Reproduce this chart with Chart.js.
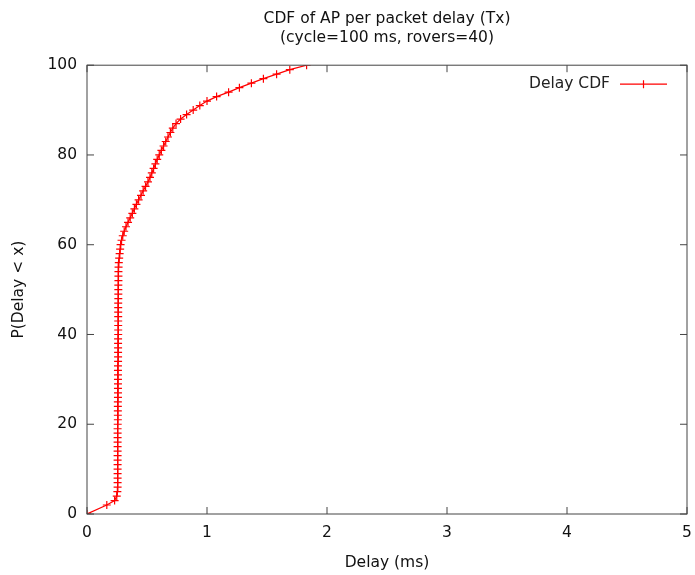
<!DOCTYPE html>
<html>
<head>
<meta charset="utf-8">
<title>CDF of AP per packet delay</title>
<script src="https://cdn.jsdelivr.net/npm/chart.js@4.4.1/dist/chart.umd.min.js"></script>
<style>
  html, body { margin: 0; padding: 0; background: #fff; }
  #wrap { width: 695px; height: 575px; }
</style>
</head>
<body>
<div id="wrap"><canvas id="cdfChart" width="695" height="575"></canvas></div>
<script>
// Cumulative probability (%) and the delay (ms) reached at that level
const cdfPercent = [
    0, 2, 3, 4, 5, 6, 7, 8, 9, 10,
    11, 12, 13, 14, 15, 16, 17, 18, 19, 20,
    21, 22, 23, 24, 25, 26, 27, 28, 29, 30,
    31, 32, 33, 34, 35, 36, 37, 38, 39, 40,
    41, 42, 43, 44, 45, 46, 47, 48, 49, 50,
    51, 52, 53, 54, 55, 56, 57, 58, 59, 60,
    61, 62, 63, 64, 65, 66, 67, 68, 69, 70,
    71, 72, 73, 74, 75, 76, 77, 78, 79, 80,
    81, 82, 83, 84, 85, 86, 87, 88, 89, 90,
    91, 92, 93, 94, 95, 96, 97, 98, 99, 100
];
const delayMs = [
    0, 0.165, 0.23, 0.248, 0.253, 0.255, 0.255, 0.255, 0.255, 0.255,
    0.255, 0.255, 0.255, 0.255, 0.255, 0.255, 0.255, 0.255, 0.255, 0.256,
    0.257, 0.257, 0.257, 0.257, 0.257, 0.258, 0.258, 0.258, 0.258, 0.258,
    0.258, 0.258, 0.258, 0.259, 0.259, 0.259, 0.259, 0.259, 0.259, 0.26,
    0.26, 0.26, 0.26, 0.26, 0.26, 0.26, 0.26, 0.261, 0.261, 0.261,
    0.261, 0.262, 0.262, 0.262, 0.263, 0.265, 0.268, 0.272, 0.276, 0.28,
    0.288, 0.298, 0.31, 0.325, 0.342, 0.36, 0.378, 0.395, 0.412, 0.43,
    0.45, 0.468, 0.488, 0.508, 0.525, 0.54, 0.555, 0.57, 0.585, 0.602,
    0.62, 0.638, 0.656, 0.675, 0.695, 0.715, 0.742, 0.78, 0.83, 0.885,
    0.94, 1.0, 1.08, 1.18, 1.27, 1.37, 1.47, 1.58, 1.69, 1.83
];

const xTicks = [0, 1, 2, 3, 4, 5];
const yTicks = [0, 20, 40, 60, 80, 100];
const seriesLabel = 'Delay CDF';
const titleLines = ['CDF of AP per packet delay (Tx)', '(cycle=100 ms, rovers=40)'];

const FONT = 'DejaVu Sans';
const FONT_SIZE = 15.5;

// gnuplot-like frame: border box with inward ticks on all four sides
const framePlugin = {
    id: 'frame',
    afterDatasetsDraw(chart) {
        const { ctx, chartArea: a, scales } = chart;
        const tickLen = 7;
        ctx.save();
        ctx.strokeStyle = '#444';
        ctx.lineWidth = 1;
        ctx.beginPath();
        xTicks.forEach(v => {
            const px = scales.x.getPixelForValue(v);
            ctx.moveTo(px, a.bottom); ctx.lineTo(px, a.bottom - tickLen);
            ctx.moveTo(px, a.top); ctx.lineTo(px, a.top + tickLen);
        });
        yTicks.forEach(v => {
            const py = scales.y.getPixelForValue(v);
            ctx.moveTo(a.left, py); ctx.lineTo(a.left + tickLen, py);
            ctx.moveTo(a.right, py); ctx.lineTo(a.right - tickLen, py);
        });
        ctx.stroke();
        ctx.strokeRect(a.left, a.top, a.right - a.left, a.bottom - a.top);
        ctx.restore();
    }
};

// key in the top right corner: label, then line sample with a marker
const keyPlugin = {
    id: 'key',
    afterDraw(chart) {
        const { ctx, chartArea: a } = chart;
        const ds = chart.data.datasets[0];
        const y = a.top + 19;
        const x1 = a.right - 67, x2 = a.right - 20;
        ctx.save();
        ctx.font = FONT_SIZE + 'px "' + FONT + '"';
        ctx.fillStyle = '#222';
        ctx.textAlign = 'right';
        ctx.textBaseline = 'middle';
        ctx.fillText(ds.label, x1 - 10, y);
        ctx.strokeStyle = ds.borderColor;
        ctx.lineWidth = ds.borderWidth;
        ctx.beginPath();
        ctx.moveTo(x1, y); ctx.lineTo(x2, y);
        const mx = (x1 + x2) / 2;
        ctx.moveTo(mx, y - ds.pointRadius); ctx.lineTo(mx, y + ds.pointRadius);
        ctx.stroke();
        ctx.restore();
    }
};

const points = cdfPercent.map((p, i) => ({ x: delayMs[i], y: p }));

new Chart(document.getElementById('cdfChart'), {
    type: 'scatter',
    data: {
        datasets: [{
            label: seriesLabel,
            data: points,
            showLine: true,
            borderColor: '#ff0000',
            backgroundColor: '#ff0000',
            borderWidth: 1.2,
            pointStyle: 'cross',
            pointRadius: 4,
            pointBorderWidth: 1.2,
            pointBorderColor: '#ff0000',
            tension: 0
        }]
    },
    options: {
        responsive: false,
        animation: false,
        devicePixelRatio: 1,
        layout: { padding: { left: 0, right: 8, top: 0, bottom: 0 } },
        plugins: {
            legend: { display: false },
            tooltip: { enabled: false },
            title: {
                display: true,
                fullSize: false,
                text: titleLines,
                color: '#111',
                font: { family: FONT, size: FONT_SIZE, weight: 'normal', lineHeight: 1.2 },
                padding: { top: 10, bottom: 18 }
            }
        },
        scales: {
            x: {
                type: 'linear',
                min: 0,
                max: 5,
                afterBuildTicks: scale => { scale.ticks = xTicks.map(v => ({ value: v })); },
                afterFit: scale => {
                    scale.height = 61;
                    scale.paddingLeft = 0;
                    scale.paddingRight = 0;
                },
                grid: { display: false, drawTicks: false },
                border: { display: false },
                ticks: {
                    padding: 10,
                    color: '#111',
                    font: { family: FONT, size: FONT_SIZE }
                },
                title: {
                    display: true,
                    text: 'Delay (ms)',
                    color: '#111',
                    font: { family: FONT, size: FONT_SIZE },
                    padding: { top: 0, bottom: 3 }
                }
            },
            y: {
                type: 'linear',
                min: 0,
                max: 100,
                afterBuildTicks: scale => { scale.ticks = yTicks.map(v => ({ value: v })); },
                afterFit: scale => { scale.width = 87; },
                grid: { display: false, drawTicks: false },
                border: { display: false },
                ticks: {
                    padding: 10,
                    color: '#111',
                    font: { family: FONT, size: FONT_SIZE }
                },
                title: {
                    display: true,
                    text: 'P(Delay < x)',
                    color: '#111',
                    font: { family: FONT, size: FONT_SIZE },
                    padding: { top: 10, bottom: 0 }
                }
            }
        }
    },
    plugins: [framePlugin, keyPlugin]
});
</script>
</body>
</html>
